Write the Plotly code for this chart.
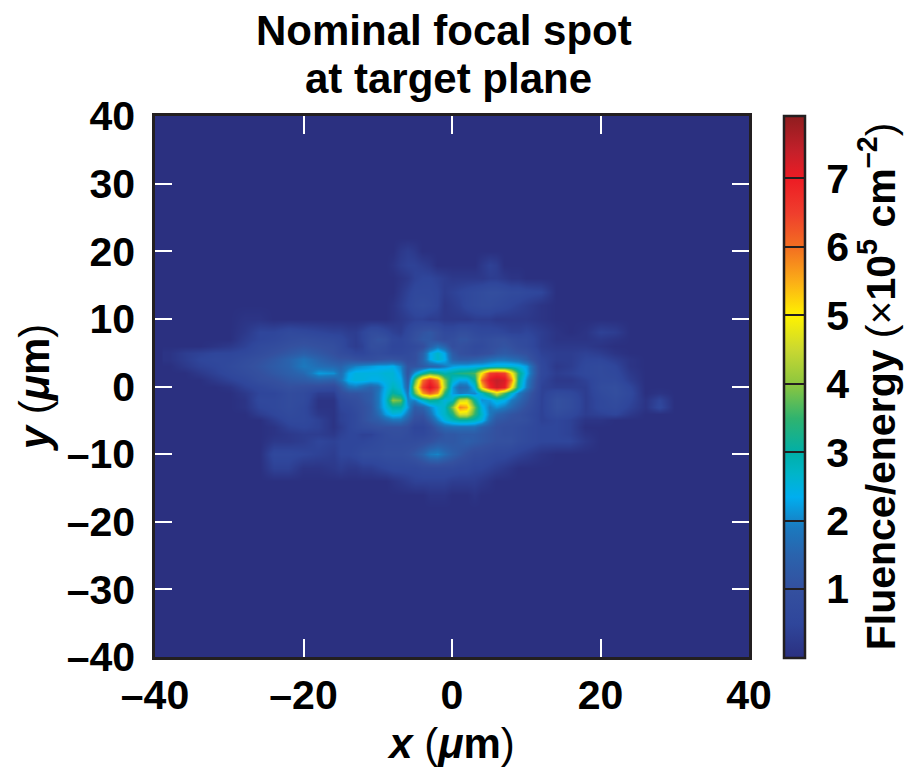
import numpy as np
import plotly.graph_objects as go

x_um = [-38,-36,-34,-32,-30,-28,-26,-24,-22,-20,-18,-16,
        -15,-14,-13,-12,-11,-10,-9,-8,-7,-6,-5,-4,-3,-2,-1,0,1,2,3,4,5,6,7,8,9,10,
        12,14,16,18,20,22,24,26,28,30]
y_um = [22,20,18,16,14,12,10,8,7,6,5,4,3,2,1,0,-1,-2,-3,-4,-5,-6,-7,-8,-10,-12,-14,-16,-18]

# Fluence/energy, in tenths of 1e5 cm^-2
r_p22 = [0,0,0,0,0,0,0,0,0,0,0,0, 0,0,0,0,0,0,0,0,0,0,0,0,0,0,0,0,0,0,0,0,0,0,0,0,0,0, 0,0,0,0,0,0,0,0,0,0]
r_p20 = [0,0,0,0,0,0,0,0,0,0,0,0, 0,0,0,0,0,0,0,0,2,3,2,0,0,0,0,0,0,0,0,0,0,0,0,0,0,0, 0,0,0,0,0,0,0,0,0,0]
r_p18 = [0,0,0,0,0,0,0,0,0,0,0,0, 0,0,0,0,0,0,0,1,3,4,4,3,2,0,0,0,0,0,0,2,4,3,0,0,0,0, 0,0,0,0,0,0,0,0,0,0]
r_p16 = [0,0,0,0,0,0,0,0,0,0,0,0, 0,0,0,0,0,0,0,0,1,2,4,5,5,4,3,2,2,2,2,2,3,3,2,1,1,0, 0,0,0,0,0,0,0,0,0,0]
r_p14 = [0,0,0,0,0,0,0,0,0,0,0,0, 0,0,0,0,0,0,0,0,2,4,6,6,6,5,3,4,5,6,7,8,9,9,8,7,7,6, 5,0,0,0,0,0,0,0,0,0]
r_p12 = [0,0,0,0,0,0,0,0,0,0,0,0, 0,0,0,0,0,0,0,1,3,5,7,8,7,5,2,3,4,6,7,8,8,7,6,5,4,3, 1,0,0,0,0,0,0,0,0,0]
r_p10 = [0,0,0,0,0,1,1,0,0,0,0,0, 0,0,0,0,0,0,0,1,2,3,4,4,3,3,2,2,2,2,3,3,3,2,2,2,2,2, 1,0,0,0,0,0,0,0,0,0]
r_p8  = [0,0,0,0,0,2,5,5,7,6,5,4, 4,3,3,5,8,8,6,4,3,6,9,11,12,10,7,7,9,9,7,6,6,6,5,4,4,5, 3,1,0,1,4,3,0,0,0,0]
r_p7  = [0,0,0,0,0,3,5,6,8,9,8,7, 6,4,3,5,9,11,10,6,5,7,10,12,12,10,8,9,11,11,9,8,9,10,10,8,7,7, 3,1,1,1,2,1,0,0,0,0]
r_p6  = [0,0,0,1,2,4,7,8,10,11,10,9, 7,4,3,4,9,9,8,5,5,6,7,9,14,18,15,9,10,9,7,7,9,10,11,10,8,7, 3,2,2,2,1,0,0,0,0,0]
r_p5  = [1,3,4,5,5,6,8,10,12,14,12,10, 8,7,5,5,7,8,7,6,6,7,9,14,23,27,23,13,10,9,8,9,10,12,13,12,11,10, 4,3,3,4,3,1,0,0,0,0]
r_p4  = [1,3,5,6,6,8,10,12,15,18,15,12, 11,11,10,9,9,10,11,11,10,8,9,15,23,27,24,15,13,13,14,15,17,18,18,17,16,13, 5,3,3,5,5,3,1,0,0,0]
r_p3  = [0,2,4,5,7,9,11,13,15,19,17,16, 15,18,20,21,22,23,23,24,20,11,11,13,15,16,19,22,23,23,24,24,25,26,26,26,25,22, 6,2,3,6,7,5,1,0,0,0]
r_p2  = [0,0,2,4,6,8,10,12,14,16,22,21, 17,23,25,25,25,25,26,26,22,11,22,30,36,33,29,31,33,34,36,50,65,67,65,50,33,23, 6,3,4,6,7,6,2,0,0,0]
r_p1  = [0,0,0,2,4,6,9,10,12,13,15,14, 18,24,25,25,24,24,25,26,24,13,36,60,68,60,40,27,23,23,31,60,71,74,72,58,31,20, 5,2,2,4,7,7,3,0,0,0]
r_0   = [0,0,0,0,1,4,6,8,10,9,8,7, 12,18,19,17,15,17,24,28,25,15,43,65,73,65,42,22,16,17,25,52,68,73,70,50,29,19, 4,3,3,3,8,9,5,0,0,0]
r_m1  = [0,0,0,0,0,2,5,5,8,7,3,3, 9,11,11,12,13,18,25,31,28,18,37,56,62,56,34,22,19,20,20,27,36,46,36,26,19,14, 4,7,6,3,7,9,6,0,1,0]
r_m2  = [0,0,0,0,0,1,6,6,8,7,1,1, 6,8,9,11,13,18,26,40,38,20,20,27,32,30,25,28,45,47,31,21,22,26,24,19,16,12, 4,10,8,3,6,8,5,1,5,0]
r_m3  = [0,0,0,0,0,1,5,6,8,6,1,1, 5,6,8,10,12,18,25,30,30,22,13,15,20,25,27,40,58,55,38,25,19,21,19,16,13,10, 4,10,8,3,6,7,4,1,6,0]
r_m4  = [0,0,0,0,0,0,3,5,7,6,2,1, 4,5,7,10,12,16,22,25,24,18,11,11,17,24,27,33,46,46,35,27,19,15,13,11,10,8, 4,8,6,3,4,5,2,0,0,0]
r_m5  = [0,0,0,0,0,0,0,3,6,6,4,1, 4,5,7,10,12,13,16,18,18,14,9,8,13,20,25,28,30,30,28,25,17,12,11,10,10,9, 4,5,4,1,1,0,0,0,0,0]
r_m6  = [0,0,0,0,0,0,0,1,4,5,4,1, 3,5,7,8,9,10,10,10,10,9,5,5,8,13,16,17,17,17,17,14,12,10,9,9,8,7, 5,5,4,0,0,0,0,0,0,0]
r_m7  = [0,0,0,0,0,0,0,1,2,3,3,2, 4,5,5,4,4,6,8,9,9,8,6,6,8,10,12,12,13,13,13,12,11,10,9,9,8,7, 5,5,4,1,0,0,0,0,0,0]
r_m8  = [0,0,0,0,0,0,0,2,2,3,5,4, 5,5,5,5,6,7,8,8,8,8,8,9,10,12,12,12,13,14,13,12,11,10,10,10,8,7, 5,5,5,2,0,0,0,0,0,0]
r_m10 = [0,0,0,0,0,0,0,6,6,5,4,3, 5,5,6,8,8,8,9,9,9,10,12,15,19,20,17,14,12,10,8,8,7,6,6,5,4,3, 1,0,0,0,0,0,0,0,0,0]
r_m12 = [0,0,0,0,0,0,0,4,4,1,1,2, 3,2,2,3,3,4,5,6,6,6,6,7,7,7,7,7,6,6,5,5,4,3,2,1,0,0, 0,0,0,0,0,0,0,0,0,0]
r_m14 = [0,0,0,0,0,0,0,0,0,0,0,0, 0,0,0,0,0,0,0,1,2,3,4,4,4,4,4,3,3,3,3,2,1,0,0,0,0,0, 0,0,0,0,0,0,0,0,0,0]
r_m16 = [0,0,0,0,0,0,0,0,0,0,0,0, 0,0,0,0,0,0,0,0,0,0,0,0,1,1,1,0,0,0,1,0,0,0,0,0,0,0, 0,0,0,0,0,0,0,0,0,0]
r_m18 = [0,0,0,0,0,0,0,0,0,0,0,0, 0,0,0,0,0,0,0,0,0,0,0,0,0,0,0,0,0,0,0,0,0,0,0,0,0,0, 0,0,0,0,0,0,0,0,0,0]

rows = [r_p22,r_p20,r_p18,r_p16,r_p14,r_p12,r_p10,r_p8,r_p7,r_p6,r_p5,r_p4,r_p3,r_p2,r_p1,
        r_0,r_m1,r_m2,r_m3,r_m4,r_m5,r_m6,r_m7,r_m8,r_m10,r_m12,r_m14,r_m16,r_m18]
z = np.array(rows, dtype=float) / 10

z_max = 7.92
color_stops = [(0,"#2b3080"),(0.5,"#2f469b"),(1,"#34509f"),(1.5,"#2a63ad"),(1.9,"#1b79be"),
               (2.35,"#00aeef"),(2.7,"#00b5c8"),(3.0,"#00afa8"),(3.5,"#2fb36f"),(4.0,"#8cc63f"),
               (4.5,"#c9d831"),(5.0,"#fff200"),(5.5,"#fbae17"),(6.0,"#f36f21"),(6.5,"#ef3e2d"),
               (7.0,"#ed1c24"),(7.4,"#c4202a"),(7.92,"#8f1d1f")]
colorscale = [[v / z_max, c] for v, c in color_stops]

x_ticks = [-40,-20,0,20,40]
x_text = ["–40","–20","0","20","40"]
y_ticks = [-40,-30,-20,-10,0,10,20,30,40]
y_text = ["–40","–30","–20","–10","0","10","20","30","40"]
cb_ticks = [1,2,3,4,5,6,7]
cb_text = ["\u00a0" + str(v) for v in cb_ticks]
title_lines = ["Nominal focal spot", "at target plane"]

L, R, T, B = 155, 161.5, 115.5, 113
W, H = 911, 770
pw = W - L - R
ph = H - T - B
FONT = "Liberation Sans"
DARK = "#231f20"

fig = go.Figure(go.Heatmap(
    x=x_um, y=y_um, z=z, zmin=0, zmax=z_max, colorscale=colorscale, zsmooth="best",
    colorbar=dict(
        x=(784.5 - L) / pw, xanchor="left", xpad=0, ypad=0,
        y=0.5, yanchor="middle", len=543 / ph, lenmode="fraction",
        thickness=20.5, thicknessmode="pixels",
        outlinecolor=DARK, outlinewidth=2.5,
        tickvals=cb_ticks, ticktext=cb_text, ticks="inside", ticklen=20.5, tickcolor=DARK, tickwidth=1.5,
        tickfont=dict(family=FONT, size=41, color="black", weight="bold"),
        title=dict(text="<b>Fluence/energy</b> (×<b>10<sup>5</sup> cm<sup>–2</sup></b>)",
                   side="right", font=dict(family=FONT, size=41, color="black")),
    ),
))

axis_common = dict(
    ticks="inside", tickcolor="white", tickwidth=2.2, mirror="ticks", showline=True,
    linecolor=DARK, linewidth=2.5, showgrid=False, zeroline=False,
    tickfont=dict(family=FONT, size=41, color="black", weight="bold"),
)
fig.update_xaxes(range=[-40,40], tickvals=x_ticks, ticktext=x_text, ticklen=18,
                 title=dict(text="<b><i>x</i></b> (<b><i>μ</i>m</b>)", standoff=12,
                            font=dict(family=FONT, size=42, color="black")), **axis_common)
fig.update_yaxes(range=[-40,40], tickvals=y_ticks, ticktext=y_text, ticklen=17, ticklabelstandoff=9,
                 title=dict(text="<b><i>y</i></b> (<b><i>μ</i>m</b>)", standoff=4,
                            font=dict(family=FONT, size=42, color="black")), **axis_common)

fig.update_layout(
    width=W, height=H, margin=dict(l=L, r=R, t=T, b=B, autoexpand=False),
    paper_bgcolor="white", plot_bgcolor="#2b3080",
    font=dict(family=FONT, color="black"),
    annotations=[
        dict(text="<b>%s</b>" % title_lines[0], xref="paper", yref="paper", showarrow=False,
             x=(444.5 - L) / pw, y=1 + (T - 30) / ph, xanchor="center", yanchor="middle",
             font=dict(family=FONT, size=42, color="black")),
        dict(text="<b>%s</b>" % title_lines[1], xref="paper", yref="paper", showarrow=False,
             x=(449 - L) / pw, y=1 + (T - 78) / ph, xanchor="center", yanchor="middle",
             font=dict(family=FONT, size=42, color="black")),
    ],
)

fig.write_html("out.html", config={"displayModeBar": False},
               post_script="document.body.style.margin='0';")
